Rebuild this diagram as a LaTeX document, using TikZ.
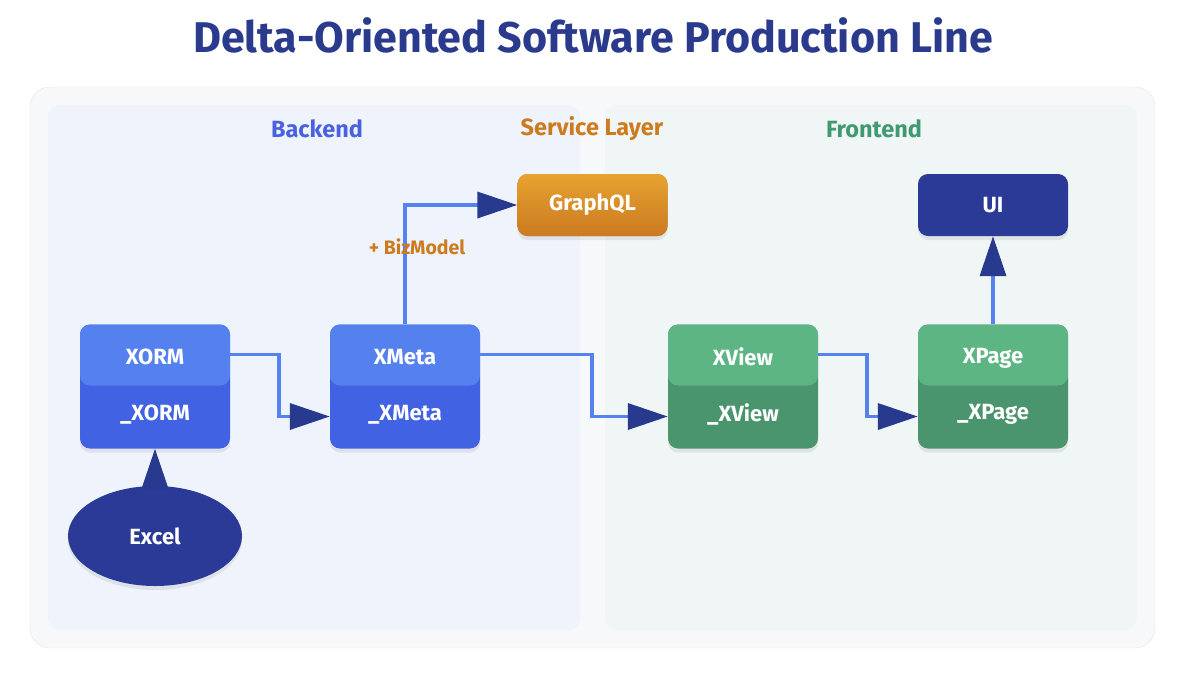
\documentclass[tikz,border=0pt]{standalone}
\usepackage{fontspec}
\setmainfont{Fira Sans}
\usetikzlibrary{arrows.meta,shapes.geometric,shadows}

\definecolor{titlenavy}{HTML}{2A3A8C}
\definecolor{outerbg}{HTML}{F7F8FA}
\definecolor{outerline}{HTML}{E3E5EA}
\definecolor{backbg}{HTML}{EFF3FB}
\definecolor{frontbg}{HTML}{F0F5F6}
\definecolor{bluetop}{HTML}{5581EF}
\definecolor{bluebot}{HTML}{4163E3}
\definecolor{greentop}{HTML}{5EB584}
\definecolor{greenbot}{HTML}{4A946E}
\definecolor{navy}{HTML}{2A3A96}
\definecolor{orangetop}{HTML}{E7A22F}
\definecolor{orangebot}{HTML}{CB7A22}
\definecolor{flowline}{HTML}{5582EE}
\definecolor{headnavy}{HTML}{283A8D}
\definecolor{backtext}{HTML}{4A62E0}
\definecolor{servtext}{HTML}{CE7B1F}
\definecolor{fronttext}{HTML}{3F9A72}

\begin{document}
\begin{tikzpicture}[x=1pt,y=-1pt,
  soft/.style={drop shadow={shadow xshift=0pt,shadow yshift=-4pt,opacity=0.07,fill=black}},
  layer/.style 2 args={fill=#2, rounded corners=10pt, minimum width=150pt, minimum height=124pt,
    path picture={\fill[#1] (path picture bounding box.north west) rectangle ([yshift=-61pt]path picture bounding box.north east);},
    text=white, align=center, font=\bfseries\fontsize{22}{26}\selectfont, soft},
  plain/.style={fill=#1, rounded corners=10pt, minimum width=150pt, minimum height=62pt,
    text=white, font=\bfseries\fontsize{22}{26}\selectfont, soft},
  panel/.style={font=\bfseries\fontsize{23.5}{28}\selectfont},
  flow/.style={draw=flowline, line width=3.5pt,
    -{Triangle[length=40pt,width=26pt,color=headnavy]}}]
\useasboundingbox (0,0) rectangle (1191,681);

% title
\node [font=\bfseries\fontsize{43}{50}\selectfont, text=titlenavy] (title) at (593,35) {Delta-Oriented Software Production Line};

% container and panels
\draw [fill=outerbg, draw=outerline, rounded corners=20pt] (30,87) rectangle (1155,648);
\fill [backbg, rounded corners=12pt] (48,105) rectangle (580,630);
\fill [frontbg, rounded corners=12pt] (605,105) rectangle (1137,630);

\node [panel, text=backtext] (backend) at (317,129) {Backend};
\node [panel, text=servtext] (service) at (592,129) {Service Layer};
\node [panel, text=fronttext] (frontend) at (874,129) {Frontend};

% nodes
\node [layer={bluetop}{bluebot}] (xorm) at (155,386.5) {XORM\\[30pt]\_XORM};
\node [layer={bluetop}{bluebot}] (xmeta) at (405,386.5) {XMeta\\[30pt]\_XMeta};
\node [layer={greentop}{greenbot}] (xview) at (743,386.5) {XView\\[30pt]\_XView};
\node [layer={greentop}{greenbot}] (xpage) at (993,386.5) {XPage\\[30pt]\_XPage};
\node [plain=navy] (ui) at (993,205) {UI};
\node [plain=orangebot, top color=orangetop, bottom color=orangebot] (graphql) at (592.5,205) {GraphQL};
\node [ellipse, fill=navy, minimum width=174pt, minimum height=100pt, text=white,
  font=\bfseries\fontsize{22}{26}\selectfont, soft] (excel) at (155,536) {Excel};

% connectors
\draw [flow] ([yshift=32pt]xorm.east) -- ++(49,0) |- ([yshift=-30pt]xmeta.west);
\draw [flow] ([yshift=32pt]xmeta.east) -- ++(112,0) |- ([yshift=-30pt]xview.west);
\draw [flow] ([yshift=32pt]xview.east) -- ++(49,0) |- ([yshift=-30pt]xpage.west);
\draw [flow] (xmeta.north) |- (graphql.west);
\draw [flow] (xpage.north) -- (ui.south);
\draw [flow] (excel.north) -- (xorm.south);
\node [font=\bfseries\fontsize{19.5}{24}\selectfont, text=servtext] (bizmodel) at (417,247) {+ BizModel};
\end{tikzpicture}
\end{document}
